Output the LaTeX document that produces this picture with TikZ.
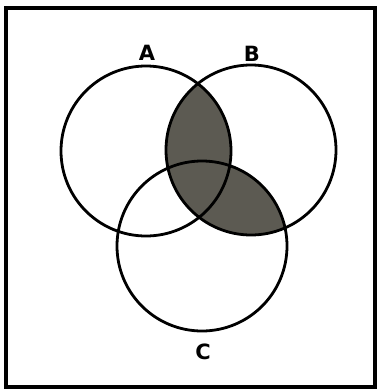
\documentclass[tikz,border=0pt]{standalone}
\usepackage{fontspec}
\setmainfont{DejaVu Sans}
\definecolor{lensgrey}{RGB}{92,90,82}
\newcommand{\setcirc}[1]{(#1) circle (85)}

\begin{document}
\begin{tikzpicture}[x=1pt,y=-1pt,line width=2.8pt,
  setlabel/.style={font=\fontsize{21}{25}\selectfont\bfseries}]
\useasboundingbox (0,0) rectangle (378,391);
\draw[line width=3.4pt] (6,8) rectangle (375,387);
\coordinate (A) at (146,151);
\coordinate (B) at (251,150);
\coordinate (C) at (202,246);
%
\begin{scope}
	\clip \setcirc{B};
	\fill[lensgrey] \setcirc{A};
	\fill[lensgrey] \setcirc{C};
\end{scope}
\draw \setcirc{A};
\draw \setcirc{B};
\draw \setcirc{C};
%
\node[setlabel] (labA) at (147,53) {A};
\node[setlabel] (labB) at (252,54) {B};
\node[setlabel] (labC) at (203,352) {C};
\end{tikzpicture}
\end{document}
